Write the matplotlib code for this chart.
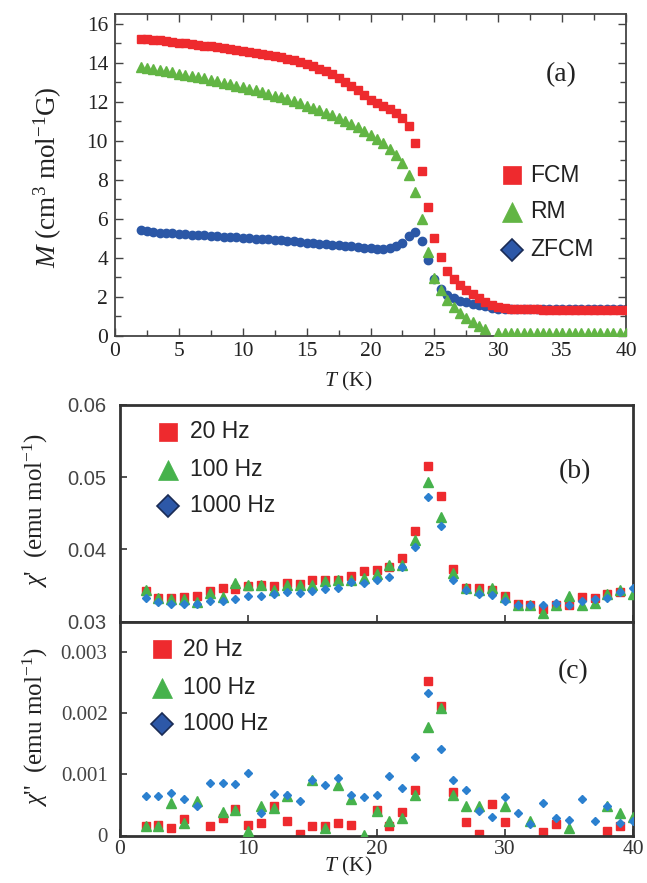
import numpy as np
import matplotlib
matplotlib.use("Agg")
import matplotlib.pyplot as plt

plt.rcParams['font.family'] = ['Liberation Serif', 'DejaVu Serif']
plt.rcParams['mathtext.fontset'] = 'custom'
plt.rcParams['mathtext.rm'] = 'Liberation Serif'
plt.rcParams['mathtext.it'] = 'Liberation Serif:italic'

# ---- panel (a): dc magnetisation ----
T_a = [2.0, 2.5, 3.0, 3.5, 4.0, 4.5, 5.0, 5.5, 6.0, 6.5, 7.0, 7.5, 8.0, 8.5, 9.0, 9.5,
       10.0, 10.5, 11.0, 11.5, 12.0, 12.5, 13.0, 13.5, 14.0, 14.5, 15.0, 15.5, 16.0, 16.5,
       17.0, 17.5, 18.0, 18.5, 19.0, 19.5, 20.0, 20.5, 21.0, 21.5, 22.0, 22.5, 23.0, 23.5,
       24.0, 24.5, 25.0, 25.5, 26.0, 26.5, 27.0, 27.5, 28.0, 28.5, 29.0, 29.5, 30.0, 30.5,
       31.0, 31.5, 32.0, 32.5, 33.0, 33.5, 34.0, 34.5, 35.0, 35.5, 36.0, 36.5, 37.0, 37.5,
       38.0, 38.5, 39.0, 39.5, 40.0]
fcm = [15.23, 15.20, 15.17, 15.14, 15.10, 15.07, 15.03, 15.00, 14.96, 14.92, 14.88, 14.84,
       14.80, 14.76, 14.71, 14.66, 14.61, 14.56, 14.51, 14.46, 14.40, 14.34, 14.27, 14.20,
       14.12, 14.03, 13.95, 13.83, 13.70, 13.56, 13.40, 13.22, 13.02, 12.80, 12.58, 12.35,
       12.10, 11.95, 11.80, 11.60, 11.40, 11.18, 10.74, 9.88, 8.42, 6.57, 5.00, 4.02, 3.33,
       2.90, 2.60, 2.34, 2.12, 1.90, 1.70, 1.56, 1.45, 1.39, 1.36, 1.35, 1.34, 1.34, 1.34,
       1.33, 1.33, 1.33, 1.33, 1.33, 1.33, 1.33, 1.33, 1.33, 1.33, 1.33, 1.33, 1.33, 1.33]
rm = [13.80, 13.74, 13.68, 13.62, 13.56, 13.50, 13.44, 13.38, 13.32, 13.26, 13.19, 13.12,
      13.05, 12.98, 12.90, 12.82, 12.74, 12.66, 12.58, 12.49, 12.40, 12.31, 12.22, 12.12,
      12.02, 11.91, 11.80, 11.68, 11.56, 11.43, 11.30, 11.16, 11.01, 10.85, 10.68, 10.50,
      10.30, 10.10, 9.88, 9.59, 9.25, 8.85, 8.22, 7.34, 5.97, 4.28, 2.94, 2.34, 1.83, 1.48,
      1.17, 0.92, 0.68, 0.49, 0.35, np.nan, 0.12, 0.12, 0.12, 0.12, 0.12, 0.12, 0.12, 0.12,
      0.12, 0.12, 0.12, 0.12, 0.12, 0.12, 0.12, 0.12, 0.12, 0.12, 0.12, 0.12, 0.12]
zfcm = [5.42, 5.35, 5.31, 5.28, 5.26, 5.24, 5.22, 5.20, 5.18, 5.16, 5.14, 5.12, 5.10, 5.08,
        5.06, 5.04, 5.01, 4.99, 4.97, 4.95, 4.93, 4.90, 4.88, 4.86, 4.83, 4.80, 4.77, 4.75,
        4.72, 4.69, 4.66, 4.63, 4.60, 4.57, 4.54, 4.51, 4.48, 4.46, 4.45, 4.48, 4.58, 4.76,
        5.10, 5.30, 4.87, 3.85, 2.89, 2.37, 2.08, 1.91, 1.79, 1.71, 1.63, 1.56, 1.49, 1.42,
        1.37, 1.35, 1.34, 1.34, 1.34, 1.34, 1.34, 1.34, 1.34, 1.34, 1.34, 1.34, 1.34, 1.34,
        1.34, 1.34, 1.34, 1.34, 1.34, 1.34, 1.34]

# ---- panels (b), (c): ac susceptibility ----
T_ac = [2, 3, 4, 5, 6, 7, 8, 9, 10, 11, 12, 13, 14, 15, 16, 17, 18, 19, 20, 21, 22, 23, 24,
        25, 26, 27, 28, 29, 30, 31, 32, 33, 34, 35, 36, 37, 38, 39, 40]
chi1_20 = [0.0342, 0.0333, 0.0332, 0.0334, 0.0336, 0.0342, 0.0347, 0.0345, 0.0349, 0.0351,
           0.0349, 0.0353, 0.0352, 0.0358, 0.0358, 0.0357, 0.0363, 0.0370, 0.0371, 0.0376,
           0.0388, 0.0426, 0.0515, 0.0474, 0.0373, 0.0347, 0.0346, 0.0344, 0.0336, 0.0324,
           0.0323, 0.0318, 0.0323, 0.0323, 0.0334, 0.0333, 0.0338, 0.0341, np.nan]
chi1_100 = [0.0343, 0.0332, 0.0331, 0.0331, 0.0327, 0.0339, 0.0334, 0.0354, 0.0351, 0.0350,
            0.0344, 0.0351, 0.0351, 0.0351, 0.0356, 0.0358, 0.0357, 0.0360, 0.0366, 0.0378,
            0.0378, 0.0413, 0.0493, 0.0445, 0.0367, 0.0347, 0.0343, 0.0346, 0.0334, 0.0323,
            0.0323, 0.0312, 0.0323, 0.0336, 0.0323, 0.0326, 0.0338, 0.0343, 0.0338]
chi1_1000 = [0.0332, 0.0327, 0.0324, 0.0324, 0.0324, 0.0329, 0.0329, 0.0331, 0.0335, 0.0336,
             0.0338, 0.0341, 0.0340, 0.0342, 0.0345, 0.0347, 0.0355, 0.0353, 0.0358, 0.0362,
             0.0376, 0.0403, 0.0472, 0.0432, 0.0358, 0.0344, 0.0338, 0.0337, 0.0328, 0.0323,
             0.0323, 0.0323, 0.0326, 0.0323, 0.0328, 0.0331, 0.0332, 0.0341, 0.0346]
chi2_20 = [0.00015, 0.00017, 0.00012, 0.00027, np.nan, 0.00015, 0.00029, 0.00043, 0.00017,
           0.00020, 0.00049, 0.00024, 0.00002, 0.00016, 0.00016, 0.00021, 0.00017, np.nan,
           0.00041, 0.00016, 0.00038, 0.00075, 0.00252, 0.00212, 0.00071, 0.00022, 0.00002,
           0.00052, 0.00022, np.nan, np.nan, 0.00005, 0.00018, np.nan, np.nan, np.nan,
           0.00008, 0.00016, np.nan]
chi2_100 = [0.00016, 0.00016, 0.00053, 0.00021, 0.00056, np.nan, 0.00039, 0.00041, 0.00007,
            0.00049, 0.00045, 0.00065, np.nan, 0.00091, 0.00012, 0.00083, 0.00060, 0.00001,
            0.00040, 0.00024, 0.00028, 0.00067, 0.00177, 0.00208, 0.00066, 0.00049, 0.00049,
            np.nan, 0.00048, np.nan, 0.00023, np.nan, np.nan, 0.00012, np.nan, np.nan,
            0.00049, 0.00037, 0.00030]
chi2_1000 = [0.00064, 0.00065, 0.00069, 0.00060, 0.00049, 0.00086, 0.00086, 0.00085, 0.00102,
             0.00037, 0.00068, 0.00066, 0.00057, 0.00090, 0.00083, 0.00094, 0.00067, 0.00063,
             0.00067, 0.00097, 0.00077, 0.00128, 0.00233, 0.00141, 0.00090, 0.00074, 0.00040,
             0.00031, 0.00063, 0.00036, 0.00018, 0.00053, 0.00028, 0.00026, 0.00060, 0.00024,
             0.00049, 0.00021, 0.00024]

legend_a = ['FCM', 'RM', 'ZFCM']
legend_ac = ['20 Hz', '100 Hz', '1000 Hz']

RED = '#ee2a2e'
GREEN_A = '#62b544'
BLUE_A = '#2b57a6'
GREEN = '#46b24c'
BLUE = '#2b80cf'
LEG_BLUE = '#2d58a8'

W, H = 647, 883
fig = plt.figure(figsize=(W / 100, H / 100), dpi=100)


def box(x0, y0, x1, y1):
    return [x0 / W, 1 - y1 / H, (x1 - x0) / W, (y1 - y0) / H]


def fpt(x, y):
    return x / W, 1 - y / H


ax_a = fig.add_axes(box(115, 14, 626, 335.5))
ax_b = fig.add_axes(box(120, 405, 633, 621.5))
ax_c = fig.add_axes(box(120, 621.5, 633, 835.5))

# panel a
ax_a.plot(T_a, zfcm, 'o', color=BLUE_A, ms=6, mec=BLUE_A, zorder=2)
ax_a.plot(T_a, rm, '^', color=GREEN_A, ms=6.5, mec=GREEN_A, zorder=3)
ax_a.plot(T_a, fcm, 's', color=RED, ms=5.3, mec=RED, zorder=4)
ax_a.set_xlim(0, 40)
ax_a.set_ylim(0, 16.5)
ax_a.set_xticks(np.arange(0, 41, 5))
ax_a.set_xticks(np.arange(0, 41, 2.5), minor=True)
ax_a.set_yticks(np.arange(0, 17, 2))
ax_a.set_yticks(np.arange(0, 17, 1), minor=True)
ax_a.tick_params(which='both', direction='in', top=True, right=True, color='#444',
                 labelsize=15.5, labelcolor='#222', pad=5)
ax_a.tick_params(which='major', length=6, width=1)
ax_a.tick_params(which='minor', length=4, width=1)
for s in ax_a.spines.values():
    s.set_color('#444')
    s.set_linewidth(1.3)

# panel b
ax_b.plot(T_ac, chi1_20, 's', color=RED, ms=6, mec=RED, zorder=2)
ax_b.plot(T_ac, chi1_100, '^', color=GREEN, ms=6.5, mec=GREEN, zorder=3)
ax_b.plot(T_ac, chi1_1000, 'D', color=BLUE, ms=4.3, mec=BLUE, zorder=4)
ax_b.set_xlim(0, 40)
ax_b.set_ylim(0.03, 0.06)
ax_b.set_xticks([0, 10, 20, 30, 40])
ax_b.set_xticklabels([])
ax_b.set_yticks([0.03, 0.04, 0.05, 0.06])
ax_b.set_yticklabels(['0.03', '0.04', '0.05', '0.06'], family='Liberation Sans')
ax_b.tick_params(direction='in', length=5, width=1.2, color='#333', labelsize=14.5,
                 labelcolor='#444', pad=10)

# panel c
ax_c.plot(T_ac, chi2_20, 's', color=RED, ms=6, mec=RED, zorder=2)
ax_c.plot(T_ac, chi2_100, '^', color=GREEN, ms=6.5, mec=GREEN, zorder=3)
ax_c.plot(T_ac, chi2_1000, 'D', color=BLUE, ms=4.3, mec=BLUE, zorder=4)
ax_c.set_xlim(0, 40)
ax_c.set_ylim(0, 0.0035)
ax_c.set_xticks([0, 10, 20, 30, 40])
ax_c.set_xticklabels(['0', '10', '20', '30', '40'])
ax_c.set_yticks([0, 0.001, 0.002, 0.003])
ax_c.set_yticklabels(['0', '0.001', '0.002', '0.003'])
ax_c.tick_params(direction='in', length=5, width=1.2, color='#333', labelsize=15.5,
                 labelcolor='#333', pad=3)
ax_c.tick_params(axis='y', labelsize=15, labelcolor='#444', pad=9)

for ax in (ax_b, ax_c):
    for s in ax.spines.values():
        s.set_color('#333')
        s.set_linewidth(2)

# axis labels
fig.text(*fpt(48, 177), r'$M$ (cm$^3$ mol$^{-1}$G)', rotation=90, ha='center',
         va='center', fontsize=19.5, color='#222')
fig.text(*fpt(348, 381), r'$T$ (K)', ha='center', va='center', fontsize=15.5, color='#222')
fig.text(*fpt(348, 866), r'$T$ (K)', ha='center', va='center', fontsize=15.5, color='#222')
fig.text(*fpt(35, 510), r"$\chi$'  (emu mol$^{\mathregular{-1}}$)", rotation=90,
         ha='center', va='center', fontsize=18, color='#222')
fig.text(*fpt(35, 727), r"$\chi$''  (emu mol$^{\mathregular{-1}}$)", rotation=90,
         ha='center', va='center', fontsize=18, color='#222')

fig.text(*fpt(561, 75), '(a)', ha='center', va='center', fontsize=20, color='#222')
fig.text(*fpt(575, 472), '(b)', ha='center', va='center', fontsize=20, color='#222')
fig.text(*fpt(573, 672), '(c)', ha='center', va='center', fontsize=20, color='#222')


def legend(xm, ys, xt, labels, greens):
    styles = [('s', RED, RED, 13), ('^', greens, greens, 15), ('D', LEG_BLUE, '#1a2b55', 11)]
    for (m, c, ec, ms), y, lab in zip(styles, ys, labels):
        fx, fy = fpt(xm, y)
        fig.add_artist(plt.Line2D([fx], [fy], marker=m, color=c, mec=ec, ms=ms,
                                  mew=1.2 if m == 'D' else 0.5, ls='none',
                                  transform=fig.transFigure))
        fig.text(*fpt(xt, y), lab, ha='left', va='center', fontsize=16.5,
                 family='Liberation Sans', color='#222')


legend(512, [175, 212, 250], 530, legend_a, GREEN_A)
legend(168, [432, 470, 506], 190, legend_ac, GREEN)
legend(162, [649, 688, 724], 183, legend_ac, GREEN)

fig.savefig('out.png', dpi=100)
